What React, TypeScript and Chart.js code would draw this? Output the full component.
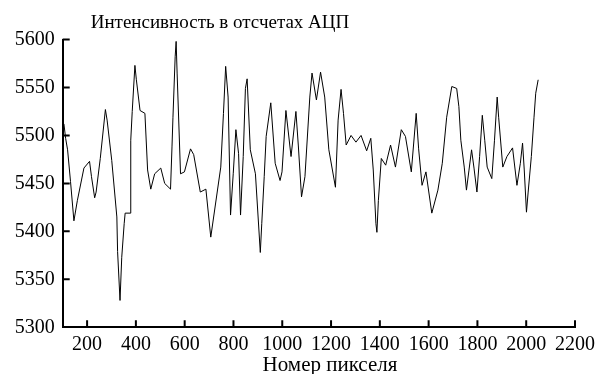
import React, { useEffect, useRef } from "react";
import { Chart, registerables } from "chart.js";

Chart.register(...registerables);

const pixelNumbers: number[] = [
  105, 112, 120, 132, 146, 160, 187, 210, 218, 231, 237, 254, 275, 282, 301, 322, 325, 335, 342, 352,
  356, 376, 379, 385, 396, 402, 417, 437, 448, 461, 477, 502, 518, 542, 548, 552, 561, 565, 569, 583,
  599, 624, 637, 664, 687, 707, 748, 759, 768, 778, 788, 799, 810, 821, 829, 840, 849, 856, 869, 890,
  910, 916, 926, 934, 953, 971, 991, 999, 1015, 1036, 1056, 1066, 1079, 1093, 1113, 1122, 1140, 1157, 1174, 1191,
  1218, 1229, 1241, 1251, 1262, 1282, 1302, 1323, 1346, 1363, 1373, 1384, 1388, 1394, 1406, 1424, 1444, 1464, 1488, 1505,
  1529, 1549, 1559, 1573, 1589, 1613, 1638, 1656, 1674, 1695, 1715, 1724, 1732, 1746, 1755, 1765, 1776, 1786, 1798, 1809,
  1820, 1830, 1840, 1859, 1870, 1881, 1887, 1904, 1921, 1944, 1962, 1976, 1985, 1992, 2001, 2008, 2021, 2032, 2039, 2049,
];

const intensity: number[] = [
  5512, 5497, 5485, 5452, 5411, 5432, 5466, 5473, 5457, 5435, 5441, 5476, 5527, 5516, 5474, 5415, 5379, 5328, 5373, 5408,
  5419, 5419, 5495, 5525, 5573, 5558, 5526, 5523, 5464, 5444, 5460, 5466, 5450, 5444, 5488, 5519, 5582, 5598, 5565, 5460,
  5462, 5486, 5480, 5441, 5444, 5394, 5467, 5523, 5572, 5540, 5417, 5460, 5506, 5481, 5417, 5478, 5549, 5559, 5485, 5460,
  5378, 5408, 5457, 5499, 5534, 5471, 5453, 5462, 5526, 5478, 5525, 5489, 5436, 5457, 5540, 5565, 5537, 5566, 5540, 5485,
  5446, 5516, 5548, 5523, 5490, 5500, 5493, 5500, 5484, 5497, 5464, 5408, 5399, 5432, 5476, 5469, 5490, 5467, 5506, 5499,
  5462, 5523, 5486, 5448, 5462, 5419, 5443, 5471, 5519, 5551, 5549, 5530, 5495, 5467, 5443, 5463, 5485, 5466, 5441, 5478,
  5521, 5495, 5467, 5455, 5495, 5540, 5519, 5467, 5478, 5487, 5448, 5471, 5492, 5464, 5420, 5441, 5478, 5519, 5544, 5558,
];

const xTicks: number[] = [200, 400, 600, 800, 1000, 1200, 1400, 1600, 1800, 2000, 2200];
const yTicks: number[] = [5300, 5350, 5400, 5450, 5500, 5550, 5600];

const titleText = "Интенсивность в отсчетах АЦП";
const xTitleText = "Номер пикселя";

const FONT = '"Liberation Serif", "DejaVu Serif", serif';

export default function App() {
  const canvasRef = useRef<HTMLCanvasElement | null>(null);

  useEffect(() => {
    document.body.style.margin = "0";
    const canvas = canvasRef.current;
    if (!canvas) return;

    const innerTicks = {
      id: "innerTicks",
      afterDraw(chart: any) {
        const ctx = chart.ctx;
        const xs = chart.scales.x;
        const ys = chart.scales.y;
        const ca = chart.chartArea;
        ctx.save();
        ctx.strokeStyle = "#000";
        ctx.lineWidth = 2;
        ctx.beginPath();
        xs.ticks.forEach((t: any) => {
          const px = xs.getPixelForValue(t.value);
          ctx.moveTo(px, ca.bottom);
          ctx.lineTo(px, ca.bottom - 7);
        });
        ys.ticks.forEach((t: any) => {
          if (t.value === ys.min) return;
          const py = ys.getPixelForValue(t.value);
          ctx.moveTo(ca.left, py);
          ctx.lineTo(ca.left + 7, py);
        });
        ctx.stroke();
        ctx.fillStyle = "#000";
        ctx.textBaseline = "alphabetic";
        ctx.font = "19px " + FONT;
        ctx.textAlign = "left";
        ctx.fillText(titleText, ca.left + 28, 28);
        ctx.font = "21px " + FONT;
        ctx.textAlign = "center";
        ctx.fillText(xTitleText, 330, 371);
        ctx.restore();
      },
    };

    const chart = new Chart(canvas, {
      type: "line",
      data: {
        datasets: [
          {
            data: pixelNumbers.map((x, i) => ({ x, y: intensity[i] })),
            borderColor: "#000",
            borderWidth: 1,
            pointRadius: 0,
            tension: 0,
            fill: false,
          },
        ],
      },
      options: {
        animation: false,
        responsive: false,
        devicePixelRatio: 1,
        layout: { padding: { top: 39.5, right: 20.7, left: 0, bottom: 0 } },
        plugins: {
          legend: { display: false },
          tooltip: { enabled: false },
          title: { display: false },
        },
        scales: {
          x: {
            type: "linear",
            min: 100,
            max: 2200,
            afterBuildTicks: (scale: any) => {
              scale.ticks = xTicks.map((v) => ({ value: v }));
            },
            afterFit: (scale: any) => {
              scale.height = 374 - 327.3;
            },
            grid: { display: false, drawTicks: false },
            border: { display: true, color: "#000", width: 2 },
            ticks: {
              color: "#000",
              font: { family: FONT, size: 20 },
              padding: 5,
              maxRotation: 0,
              autoSkip: false,
              callback: (v: any) => String(v),
            },
          },
          y: {
            type: "linear",
            min: 5300,
            max: 5600,
            afterBuildTicks: (scale: any) => {
              scale.ticks = yTicks.map((v) => ({ value: v }));
            },
            afterFit: (scale: any) => {
              scale.width = 62.7;
            },
            grid: { display: false, drawTicks: false },
            border: { display: true, color: "#000", width: 2 },
            ticks: {
              color: "#000",
              font: { family: FONT, size: 20 },
              padding: 8,
              autoSkip: false,
              callback: (v: any) => String(v),
            },
          },
        },
      },
      plugins: [innerTicks],
    });

    return () => {
      chart.destroy();
    };
  }, []);

  return (
    <div style={{ position: "absolute", left: 0, top: 0, width: 600, height: 374, background: "#fff" }}>
      <canvas ref={canvasRef} width={600} height={374} />
    </div>
  );
}
